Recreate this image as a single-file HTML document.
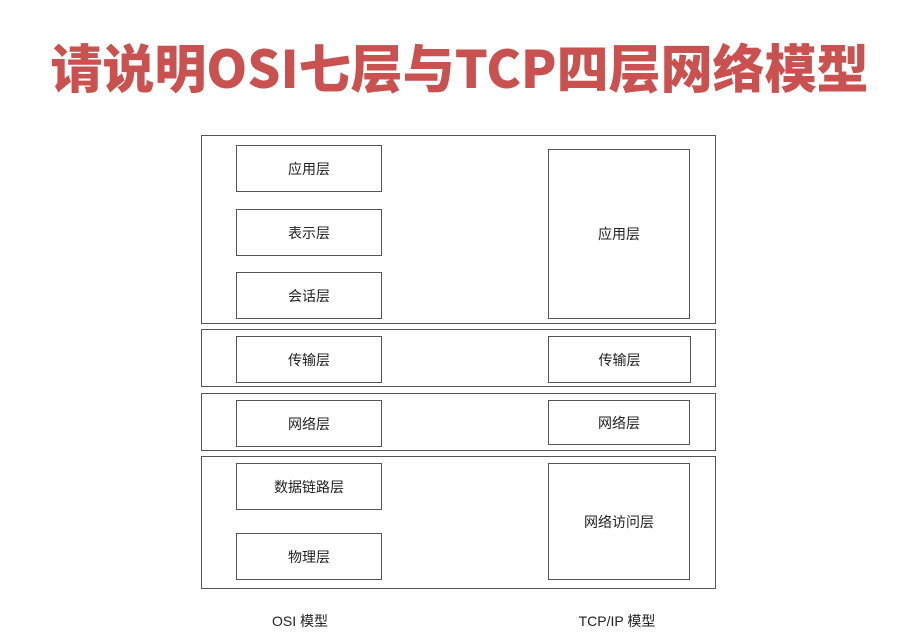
<!DOCTYPE html>
<html><head><meta charset="utf-8"><style>
body{margin:0;width:905px;height:639px;background:#fff;position:relative;overflow:hidden;font-family:"Liberation Sans","Noto Sans CJK SC",sans-serif;}
.t{position:absolute;left:7px;width:905px;top:27px;text-align:center;font-size:52px;font-weight:900;color:#c9514f;line-height:78px;font-family:"Noto Sans CJK SC",sans-serif;}
.b{position:absolute;border:1.5px solid #555;box-sizing:border-box;display:flex;align-items:center;justify-content:center;font-size:14px;color:#222;}
.l{position:absolute;font-size:14px;color:#222;text-align:center;width:200px;}
</style></head><body>
<div class="t">请说明OSI七层与TCP四层网络模型</div>
<div class="b" style="left:201px;top:135px;width:515px;height:189px"></div>
<div class="b" style="left:201px;top:329px;width:515px;height:58px"></div>
<div class="b" style="left:201px;top:393px;width:515px;height:58px"></div>
<div class="b" style="left:201px;top:456px;width:515px;height:133px"></div>
<div class="b" style="left:236px;top:145px;width:146px;height:47px">应用层</div>
<div class="b" style="left:236px;top:209px;width:146px;height:47px">表示层</div>
<div class="b" style="left:236px;top:272px;width:146px;height:47px">会话层</div>
<div class="b" style="left:236px;top:336px;width:146px;height:47px">传输层</div>
<div class="b" style="left:236px;top:400px;width:146px;height:47px">网络层</div>
<div class="b" style="left:236px;top:463px;width:146px;height:47px">数据链路层</div>
<div class="b" style="left:236px;top:533px;width:146px;height:47px">物理层</div>
<div class="b" style="left:548px;top:149px;width:142px;height:170px">应用层</div>
<div class="b" style="left:548px;top:336px;width:143px;height:47px">传输层</div>
<div class="b" style="left:548px;top:400px;width:142px;height:45px">网络层</div>
<div class="b" style="left:548px;top:463px;width:142px;height:117px">网络访问层</div>
<div class="l" style="left:200px;top:611px">OSI 模型</div>
<div class="l" style="left:517px;top:611px">TCP/IP 模型</div>
</body></html>
